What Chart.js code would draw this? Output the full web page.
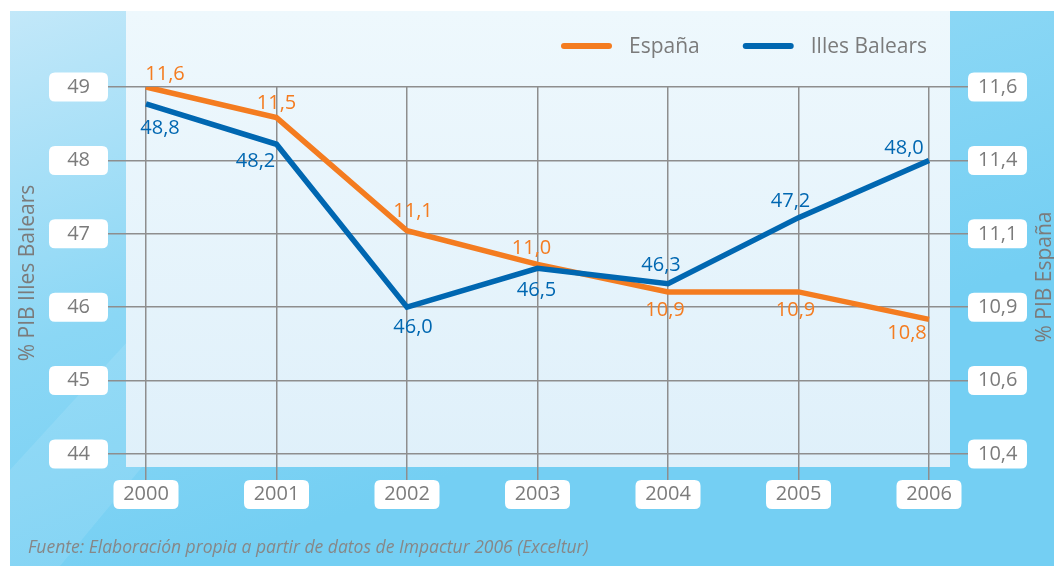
<!DOCTYPE html>
<html>
<head>
<meta charset="utf-8">
<script src="https://cdn.jsdelivr.net/npm/chart.js@4.4.1/dist/chart.umd.min.js"></script>
<style>
  html, body { margin: 0; padding: 0; background: #fff; overflow: hidden; }
  #wrap { width: 1054px; height: 566px; position: relative; }
</style>
</head>
<body>
<div id="wrap"><canvas id="chart"></canvas></div>
<script>
// data
const years = ['2000', '2001', '2002', '2003', '2004', '2005', '2006'];
const espana = [11.6, 11.5, 11.13, 11.02, 10.93, 10.93, 10.84];
const balears = [48.77, 48.22, 46.0, 46.53, 46.32, 47.22, 48.0];
const leftTicks = [44, 45, 46, 47, 48, 49];
const rightTicks = [10.4, 10.64, 10.88, 11.12, 11.36, 11.6];
const leftTitle = '% PIB Illes Balears';
const rightTitle = '% PIB España';
const source = 'Fuente: Elaboración propia a partir de datos de Impactur 2006 (Exceltur)';

// where each value label sits relative to its point
const espanaLabelOffsets = [[19, -13], [0, -14], [6, -19], [-6, -16], [-3, 18], [-3, 18], [-22, 14]];
const balearsLabelOffsets = [[14, 24], [-21, 17], [6, 20], [-1, 22], [-7, -18], [-8, -16], [-25, -12]];

const FONT = '"Open Sans", "Noto Sans", sans-serif';
const ORANGE = '#f47c20';
const BLUE = '#0067b1';
const GREY = '#7b7b7b';
const GRID = '#8e8e8e';

function fmt(v) {
    return Number(v).toFixed(1).replace('.', ',');
}

function roundRect(ctx, x, y, w, h, r) {
    ctx.beginPath();
    ctx.moveTo(x + r, y);
    ctx.lineTo(x + w - r, y);
    ctx.quadraticCurveTo(x + w, y, x + w, y + r);
    ctx.lineTo(x + w, y + h - r);
    ctx.quadraticCurveTo(x + w, y + h, x + w - r, y + h);
    ctx.lineTo(x + r, y + h);
    ctx.quadraticCurveTo(x, y + h, x, y + h - r);
    ctx.lineTo(x, y + r);
    ctx.quadraticCurveTo(x, y, x + r, y);
    ctx.closePath();
}

const backdrop = {
    id: 'backdrop',
    beforeDraw(chart) {
        const ctx = chart.ctx;
        const W = chart.width, H = chart.height;
        ctx.save();
        ctx.fillStyle = '#fff';
        ctx.fillRect(0, 0, W, H);

        // outer blue panel
        let g = ctx.createLinearGradient(0, 11, 200, H);
        g.addColorStop(0, '#c3e8f9');
        g.addColorStop(0.55, '#8bd7f5');
        g.addColorStop(1, '#74cff3');
        ctx.fillStyle = g;
        ctx.fillRect(10, 11, W - 10, H - 11);

        // soft diagonal sheen
        ctx.globalAlpha = 0.1;
        ctx.fillStyle = '#ffffff';
        ctx.beginPath();
        ctx.moveTo(10, 470);
        ctx.lineTo(10, 566);
        ctx.lineTo(60, 566);
        ctx.lineTo(520, 11);
        ctx.lineTo(430, 11);
        ctx.closePath();
        ctx.fill();
        ctx.globalAlpha = 1;

        // inner light panel
        g = ctx.createLinearGradient(0, 11, 0, 467);
        g.addColorStop(0, '#eef8fd');
        g.addColorStop(1, '#dff0fa');
        ctx.fillStyle = g;
        ctx.fillRect(126, 11, 824, 456);

        // white boxes behind tick labels
        ctx.fillStyle = '#fff';
        const y = chart.scales.y, y1 = chart.scales.y1, x = chart.scales.x;
        leftTicks.forEach(v => {
            const py = y.getPixelForValue(v);
            roundRect(ctx, 49, py - 14.5, 59, 29, 6);
            ctx.fill();
        });
        rightTicks.forEach(v => {
            const py = y1.getPixelForValue(v);
            roundRect(ctx, 968, py - 14.5, 59, 29, 6);
            ctx.fill();
        });
        years.forEach((c, i) => {
            const px = x.getPixelForValue(i);
            roundRect(ctx, px - 32.5, 480, 65, 29, 6);
            ctx.fill();
        });
        ctx.restore();
    },
    afterDatasetsDraw(chart) {
        const ctx = chart.ctx;
        ctx.save();
        ctx.font = '20px ' + FONT;
        ctx.textAlign = 'center';
        ctx.textBaseline = 'middle';
        const sets = [[0, espanaLabelOffsets, ORANGE], [1, balearsLabelOffsets, BLUE]];
        sets.forEach(([di, offs, col]) => {
            const meta = chart.getDatasetMeta(di);
            const vals = chart.data.datasets[di].data;
            ctx.fillStyle = col;
            meta.data.forEach((pt, i) => {
                ctx.fillText(fmt(vals[i]), pt.x + offs[i][0], pt.y + offs[i][1]);
            });
        });
        ctx.restore();
    },
    afterDraw(chart) {
        const ctx = chart.ctx;
        ctx.save();
        // legend
        ctx.font = '21px ' + FONT;
        ctx.textBaseline = 'middle';
        let lx = 561;
        chart.data.datasets.forEach(ds => {
            ctx.strokeStyle = ds.borderColor;
            ctx.lineWidth = 6;
            ctx.lineCap = 'round';
            ctx.beginPath();
            ctx.moveTo(lx + 3, 46);
            ctx.lineTo(lx + 48, 46);
            ctx.stroke();
            ctx.fillStyle = GREY;
            ctx.textAlign = 'left';
            ctx.fillText(ds.label, lx + 68, 47);
            lx += 68 + ctx.measureText(ds.label).width + 43;
        });

        // axis titles
        ctx.font = '21px ' + FONT;
        ctx.fillStyle = GREY;
        ctx.textAlign = 'center';
        ctx.translate(28, 273);
        ctx.rotate(-Math.PI / 2);
        ctx.fillText(leftTitle, 0, 0);
        ctx.setTransform(1, 0, 0, 1, 0, 0);
        ctx.translate(1045, 277);
        ctx.rotate(-Math.PI / 2);
        ctx.fillText(rightTitle, 0, 0);
        ctx.setTransform(1, 0, 0, 1, 0, 0);

        // source note
        ctx.font = 'italic 17.5px ' + FONT;
        ctx.fillStyle = '#878787';
        ctx.textAlign = 'left';
        ctx.fillText(source, 28, 548);
        ctx.restore();
    }
};

const tickFont = { family: FONT, size: 20 };

new Chart(document.getElementById('chart'), {
    type: 'line',
    data: {
        labels: years,
        datasets: [{
            label: 'España',
            data: espana,
            yAxisID: 'y1',
            borderColor: ORANGE,
            backgroundColor: ORANGE,
            borderWidth: 5.5,
            pointRadius: 0,
            tension: 0,
            order: 1,
        },
        {
            label: 'Illes Balears',
            data: balears,
            yAxisID: 'y',
            borderColor: BLUE,
            backgroundColor: BLUE,
            borderWidth: 5.5,
            pointRadius: 0,
            tension: 0,
            order: 0,
        }]
    },
    options: {
        responsive: true,
        maintainAspectRatio: false,
        animation: false,
        layout: { padding: { top: 87, left: 0, right: 0, bottom: 0 } },
        plugins: {
            legend: { display: false },
            tooltip: { enabled: false },
        },
        scales: {
            x: {
                offset: false,
                border: { display: false },
                grid: { color: GRID, lineWidth: 1.5, tickLength: 26 },
                ticks: { color: GREY, font: tickFont, padding: 2, maxRotation: 0 },
                afterFit(s) { s.height = 112; },
            },
            y: {
                position: 'left',
                min: 44,
                max: 49,
                border: { display: false },
                grid: { color: GRID, lineWidth: 1.5, tickLength: 38 },
                ticks: { stepSize: 1, color: GREY, font: tickFont, padding: 18, crossAlign: 'near' },
                afterBuildTicks(s) { s.ticks = leftTicks.map(v => ({ value: v })); },
                afterFit(s) { s.width = 146; },
            },
            y1: {
                position: 'right',
                min: 10.4,
                max: 11.6,
                border: { display: false },
                grid: { color: GRID, lineWidth: 1.5, tickLength: 39, drawOnChartArea: false },
                ticks: { color: GREY, font: tickFont, padding: 10, crossAlign: 'near', callback: v => fmt(v) },
                afterBuildTicks(s) { s.ticks = rightTicks.map(v => ({ value: v })); },
                afterFit(s) { s.width = 125; },
            }
        }
    },
    plugins: [backdrop]
});
</script>
</body>
</html>
